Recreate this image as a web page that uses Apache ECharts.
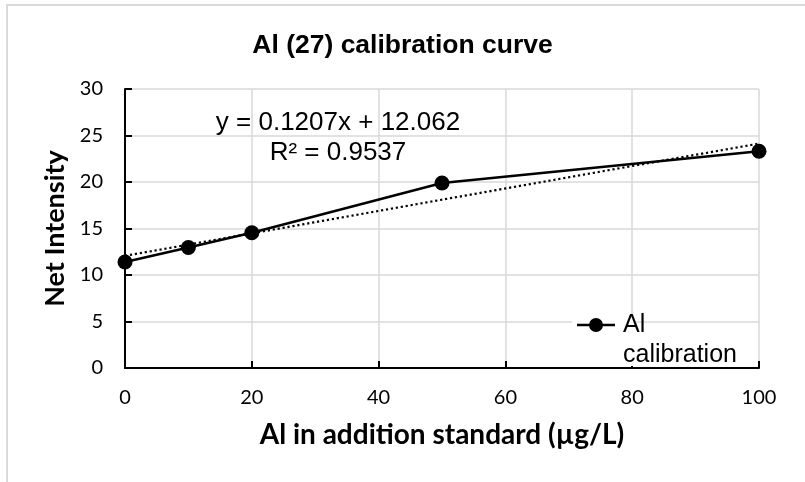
<!DOCTYPE html>
<html>
<head>
<meta charset="utf-8">
<title>Al (27) calibration curve</title>
<script src="https://cdn.jsdelivr.net/npm/echarts@6/dist/echarts.min.js"></script>
<style>
  html, body { margin: 0; padding: 0; background: #fff; }
  #chart { width: 805px; height: 482px; }
</style>
</head>
<body>
<div id="chart"></div>
<script>
// Standard addition data for Al (27)
const concentrations = [0, 10, 20, 50, 100];          // µg/L
const intensities = [11.4, 12.95, 14.55, 19.9, 23.3]; // net intensity

// Linear fit reported for the series
const fitSlope = 0.1207;
const fitIntercept = 12.062;
const fitR2 = 0.9537;
const fitRange = [0, 100];

const xTicks = { min: 0, max: 100, interval: 20 };
const yTicks = { min: 0, max: 30, interval: 5 };

const seriesName = 'Al calibration';

const points = concentrations.map((x, i) => [x, intensities[i]]);
const fitPoints = fitRange.map(x => [x, fitSlope * x + fitIntercept]);

const labelFont = 'Lato, "Open Sans", sans-serif';
const arialFont = '"Liberation Sans", Arial, sans-serif';

// legend marker: a short line with a filled dot in its middle
const legendIcon = 'path://M0,5.75H38V8.25H0Z M26,7A7,7,0,1,1,12,7A7,7,0,1,1,26,7Z';

const chart = echarts.init(document.getElementById('chart'), null, { renderer: 'canvas' });

chart.setOption({
  animation: false,
  backgroundColor: '#ffffff',
  title: {
    text: 'Al (27) calibration curve',
    left: 'center',
    top: 27,
    textStyle: { fontFamily: arialFont, fontSize: 26.5, fontWeight: 'bold', color: '#000' }
  },
  grid: { left: 125, right: 46, top: 89, bottom: 114 },
  xAxis: {
    type: 'value',
    min: xTicks.min, max: xTicks.max, interval: xTicks.interval,
    name: 'Al in addition standard (µg/L)',
    nameLocation: 'middle',
    nameGap: 53,
    nameTextStyle: { fontFamily: labelFont, fontSize: 28, fontWeight: 'bold', color: '#000' },
    axisLine: { show: true, onZero: false, lineStyle: { color: '#000', width: 2 } },
    axisTick: { show: true, inside: true, length: 7, lineStyle: { color: '#000', width: 2 } },
    axisLabel: { margin: 20, fontFamily: labelFont, fontSize: 20, color: '#000' },
    splitLine: { show: true, lineStyle: { color: '#d9d9d9', width: 1.5 } }
  },
  yAxis: {
    type: 'value',
    min: yTicks.min, max: yTicks.max, interval: yTicks.interval,
    name: 'Net Intensity',
    nameLocation: 'middle',
    nameGap: 55,
    nameTextStyle: { fontFamily: labelFont, fontSize: 27, fontWeight: 'bold', color: '#000' },
    axisLine: { show: true, lineStyle: { color: '#000', width: 2 } },
    axisTick: { show: true, inside: true, length: 7, lineStyle: { color: '#000', width: 2 } },
    axisLabel: { margin: 22, fontFamily: labelFont, fontSize: 20, color: '#000' },
    splitLine: { show: true, lineStyle: { color: '#d9d9d9', width: 1.5 } }
  },
  legend: {
    data: [{ name: seriesName, icon: legendIcon }],
    left: 577,
    top: 280,
    padding: 0,
    itemWidth: 38,
    itemHeight: 14,
    itemGap: 0,
    // blank first line keeps "Al" level with the marker
    formatter: () => '\nAl\ncalibration',
    textStyle: {
      fontFamily: arialFont, fontSize: 25, color: '#000',
      lineHeight: 30, padding: [0, 0, 0, 3]
    }
  },
  graphic: [
    {
      // outer chart frame
      type: 'rect', silent: true, z: 0,
      shape: { x: 7, y: 5, width: 1000, height: 1000 },
      style: { fill: 'none', stroke: '#d9d9d9', lineWidth: 2 }
    },
    {
      // legend backing
      type: 'rect', silent: true, z: 1,
      shape: { x: 572, y: 318, width: 62, height: 48 },
      style: { fill: '#ffffff' }
    },
    {
      type: 'text', silent: true, z: 10,
      x: 338, y: 123,
      style: {
        text: 'y = ' + fitSlope + 'x + ' + fitIntercept + '\nR² = ' + fitR2,
        fontFamily: arialFont, fontSize: 26, fill: '#000',
        align: 'center', verticalAlign: 'top', lineHeight: 30,
        y: -15
      }
    }
  ],
  series: [
    {
      name: 'Linear fit',
      type: 'line',
      data: fitPoints,
      showSymbol: false,
      silent: true,
      z: 3,
      lineStyle: { color: '#000', width: 2.2, type: [2.2, 2.8], cap: 'butt' }
    },
    {
      name: seriesName,
      type: 'line',
      data: points,
      symbol: 'circle',
      symbolSize: 15,
      z: 4,
      itemStyle: { color: '#000' },
      lineStyle: { color: '#000', width: 2.5 }
    }
  ]
});
</script>
</body>
</html>
